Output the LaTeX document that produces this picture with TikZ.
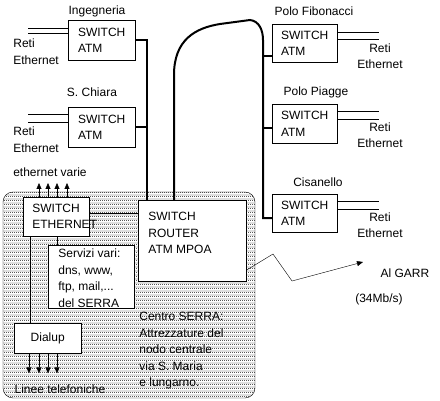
\documentclass[tikz,border=0pt]{standalone}
\usepackage{fontspec}
\setmainfont{Liberation Sans}
\usetikzlibrary{positioning,patterns.meta,arrows.meta}
\tikzdeclarepattern{name=serra dots, type=uncolored,
  bottom left={(0pt,0pt)}, top right={(2pt,4pt)}, tile size={(2pt,4pt)},
  code={\fill (0pt,0pt) rectangle (1pt,1pt); \fill (1pt,2pt) rectangle (2pt,3pt);}}
\begin{document}
\begin{tikzpicture}[x=1pt, y=-1pt, thick, font=\fontsize{12}{16.5}\selectfont,
box/.style={draw, thin, fill=white, anchor=north west, inner sep=0pt},
atm node/.style={box, minimum width=67pt, minimum height=40pt, align=left},
lbl/.style={inner sep=0pt},
trunk/.style={line width=2pt},
tip/.style={thin, -{Triangle[length=6pt,width=5pt]}}]
\useasboundingbox (0,0) rectangle (440,401);
\draw[thin, rounded corners=10pt, pattern=serra dots] (3,192) rectangle (255,398);
\node[atm node](ing) at (68,20){SWITCH\\ATM};
\node[atm node](chi) at (68,107){SWITCH\\ATM};
\node[atm node, minimum width=65pt, minimum height=38pt](fib) at (272,24){SWITCH\\ATM};
\node[atm node, minimum width=65pt, minimum height=39pt](pia) at (272,104){SWITCH\\ATM};
\node[atm node, minimum width=65pt, minimum height=38pt](cis) at (272,194){SWITCH\\ATM};
\node[lbl](ingL) at (97,11){Ingegneria};
\node[lbl](chiL) at (92,92){S. Chiara};
\node[lbl](fibL) at (314,11){Polo Fibonacci};
\node[lbl](piaL) at (316,92){Polo Piagge};
\node[lbl](cisL) at (318,182){Cisanello};
\node[lbl, anchor=west, align=left](ingE) at (13,51.5){Reti\\Ethernet};
\node[lbl, anchor=west, align=left](chiE) at (13,139.5){Reti\\Ethernet};
\node[lbl, align=center](fibE) at (380,56){Reti\\Ethernet};
\node[lbl, align=center](piaE) at (380,135){Reti\\Ethernet};
\node[lbl, align=center](cisE) at (380,225){Reti\\Ethernet};
\node[box, minimum width=108pt, minimum height=81pt](rtr) at (138,200){};
\node[lbl, anchor=west, align=left](rtrT) at (148,233){SWITCH\\ROUTER\\ATM MPOA};
\node[box, minimum width=66pt, minimum height=39pt](swe) at (23,197){};
\node[lbl, anchor=west, align=left](sweT) at (32,216.5){SWITCH\\ETHERNET};
\node[box, minimum width=86pt, minimum height=63pt](srv) at (48,245){};
\node[lbl, anchor=west, align=left](srvT) at (58,278){Servizi vari:\\dns, www,\\ftp, mail,...\\del SERRA};
\node[box, minimum width=67pt, minimum height=30pt](dia) at (14,323){Dialup};
\node[lbl, anchor=west, align=left](ctr) at (139,351){Centro SERRA:\\Attrezzature del\\nodo centrale\\via S. Maria\\e lungarno.};
\node[lbl](eth) at (50,172){ethernet varie};
\node[lbl](tel) at (60,389){Linee telefoniche};
\node[lbl](garr) at (405,273){Al GARR};
\node[lbl](bw) at (379,299){(34Mb/s)};
\coordinate(b1) at ([xshift=9pt]rtr.north west);
\coordinate(b2) at ([xshift=36pt]rtr.north west);
\coordinate(gw) at (363,262);
% dorsale
\draw[trunk](ing.east)-|(b1);
\draw[trunk](chi.east)--(chi.east-|b1);
\draw[trunk](b2)--(174,75) .. controls (174,40) and (195,28) .. (220,24)--(250,20) .. controls (259,21) and (263,30) .. (263,40)|-([yshift=-5pt]cis.west);
\draw[trunk]([yshift=-13pt]fib.west)--+(-9,0);
\draw[trunk]([yshift=-4.5pt]pia.west)--+(-9,0);
% reti ethernet
\draw[thin]([yshift=-8pt]ing.north west)--+(-40,0);
\draw[thin]([yshift=-13pt]ing.north west)--+(-40,0);
\draw[thin]([yshift=-7pt]chi.north west)--+(-40,0);
\draw[thin]([yshift=-15.5pt]chi.north west)--+(-40,0);
\draw[thin]([yshift=-8pt]fib.north east)--+(42,0);
\draw[thin]([yshift=-15pt]fib.north east)--+(42,0);
\draw[thin]([yshift=-7pt]pia.north east)--+(42,0);
\draw[thin]([yshift=-15pt]pia.north east)--+(42,0);
\draw[thin]([yshift=-7.5pt]cis.north east)--+(42,0);
\draw[thin]([yshift=-15pt]cis.north east)--+(42,0);
% centro
\draw[thin]([yshift=3.5pt]swe.east)--([yshift=3.5pt]swe.east-|rtr.west);
\draw[thin]([xshift=9pt]srv.north west)--([xshift=9pt]srv.north west|-swe.south);
\draw[thin]([xshift=7pt]swe.south west)--([xshift=7pt]swe.south west|-dia.north);
\draw[tip]([xshift=16pt]swe.north west)--+(0,-14);
\draw[tip]([xshift=25pt]swe.north west)--+(0,-14);
\draw[tip]([xshift=34pt]swe.north west)--+(0,-14);
\draw[tip]([xshift=44pt]swe.north west)--+(0,-14);
\draw[tip]([xshift=15pt]dia.south west)--+(0,20);
\draw[tip]([xshift=25pt]dia.south west)--+(0,20);
\draw[tip]([xshift=34pt]dia.south west)--+(0,20);
\draw[tip]([xshift=43pt]dia.south west)--+(0,20);
\draw[tip]([yshift=-29.5pt]rtr.east)--(273,254)--(292,281)--(gw);
\end{tikzpicture}
\end{document}
